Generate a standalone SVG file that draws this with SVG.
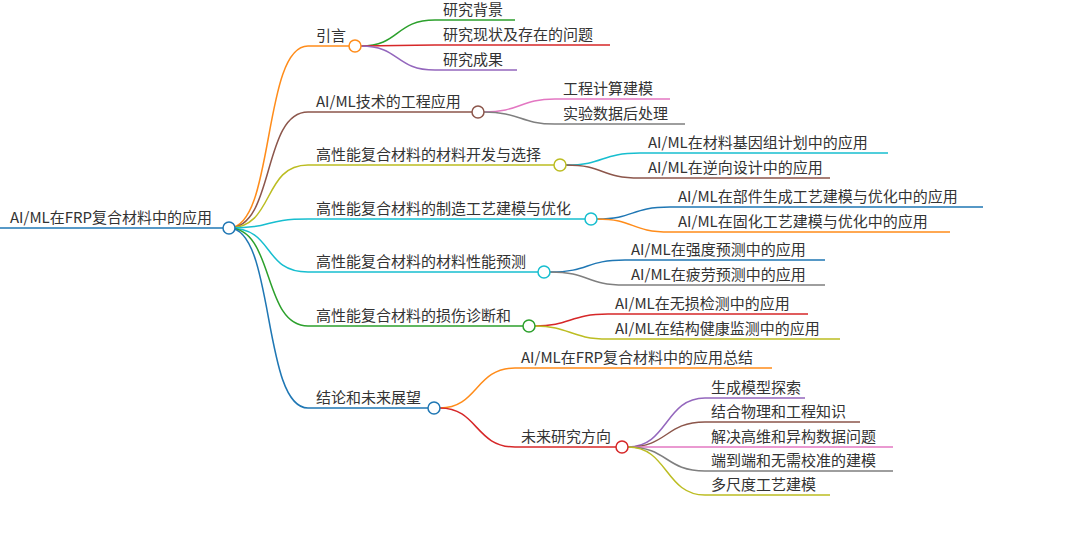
<svg xmlns="http://www.w3.org/2000/svg" width="1080" height="544" viewBox="0 0 1080 544">
<style>
text{font-family:"Noto Sans CJK SC","Liberation Sans",sans-serif;font-size:15px;fill:#333}
path{fill:none;stroke-width:1.5}
circle{fill:#fff;stroke-width:1.5}
</style>
<rect width="1080" height="544" fill="#fff"/>
<g id="connectors">
<path d="M0 228H229" stroke="#1f77b4" stroke-width="3"/>
<path d="M229 228C275 228 262 46 308 46H355" stroke="#ff8c1a"/>
<path d="M229 228C275 228 262 112 308 112H478" stroke="#8c564b"/>
<path d="M229 228C275 228 262 165 308 165H560" stroke="#bcbd22"/>
<path d="M229 228C275 228 262 219 308 219H591" stroke="#17becf"/>
<path d="M229 228C275 228 262 272 308 272H544" stroke="#17becf"/>
<path d="M229 228C275 228 262 326 308 326H529" stroke="#2ca02c"/>
<path d="M229 228C275 228 262 408 308 408H434" stroke="#1f77b4"/>
<path d="M361 46C400 46 395 20 435 20H515" stroke="#2ca02c"/>
<path d="M361 46C400 46 395 45 435 45H610" stroke="#d62728"/>
<path d="M361 46C400 46 395 70 435 70H517" stroke="#9467bd"/>
<path d="M484 112C520 112 520 99 555 99H670" stroke="#e377c2"/>
<path d="M484 112C520 112 520 124 555 124H685" stroke="#7f7f7f"/>
<path d="M566 165C605 165 600 153 640 153H888" stroke="#17becf"/>
<path d="M566 165C605 165 600 178 640 178H830" stroke="#8c564b"/>
<path d="M597 219C635 219 630 207 670 207H983" stroke="#1f77b4"/>
<path d="M597 219C635 219 630 232 670 232H950" stroke="#ff8c1a"/>
<path d="M550 272C590 272 585 260 625 260H825" stroke="#1f77b4"/>
<path d="M550 272C590 272 585 285 625 285H825" stroke="#7f7f7f"/>
<path d="M535 326C570 326 570 314 608 314H808" stroke="#d62728"/>
<path d="M535 326C570 326 570 339 608 339H840" stroke="#bcbd22"/>
<path d="M440 408C478 408 475 368 515 368H772" stroke="#ff8c1a"/>
<path d="M440 408C478 408 475 447 515 447H622" stroke="#d62728"/>
<path d="M628 447C668 447 665 398 705 398H805" stroke="#9467bd"/>
<path d="M628 447C668 447 665 422 705 422H860" stroke="#8c564b"/>
<path d="M628 447C668 447 665 447 705 447H893" stroke="#e377c2"/>
<path d="M628 447C668 447 665 471 705 471H893" stroke="#7f7f7f"/>
<path d="M628 447C668 447 665 495 705 495H830" stroke="#bcbd22"/>
</g>
<g id="root"><text x="10" y="223">AI/ML在FRP复合材料中的应用</text><circle cx="229" cy="228" r="6" stroke="#1f77b4"/></g>
<g id="n1"><text x="316" y="41">引言</text><circle cx="355" cy="46" r="6" stroke="#ff8c1a"/></g>
<g id="n2"><text x="316" y="107">AI/ML技术的工程应用</text><circle cx="478" cy="112" r="6" stroke="#8c564b"/></g>
<g id="n3"><text x="316" y="160">高性能复合材料的材料开发与选择</text><circle cx="560" cy="165" r="6" stroke="#bcbd22"/></g>
<g id="n4"><text x="316" y="214">高性能复合材料的制造工艺建模与优化</text><circle cx="591" cy="219" r="6" stroke="#17becf"/></g>
<g id="n5"><text x="316" y="267">高性能复合材料的材料性能预测</text><circle cx="544" cy="272" r="6" stroke="#17becf"/></g>
<g id="n6"><text x="316" y="321">高性能复合材料的损伤诊断和</text><circle cx="529" cy="326" r="6" stroke="#2ca02c"/></g>
<g id="n7"><text x="316" y="403">结论和未来展望</text><circle cx="434" cy="408" r="6" stroke="#1f77b4"/></g>
<g id="n1a"><text x="443" y="15">研究背景</text></g>
<g id="n1b"><text x="443" y="40">研究现状及存在的问题</text></g>
<g id="n1c"><text x="443" y="65">研究成果</text></g>
<g id="n2a"><text x="563" y="94">工程计算建模</text></g>
<g id="n2b"><text x="563" y="119">实验数据后处理</text></g>
<g id="n3a"><text x="648" y="148">AI/ML在材料基因组计划中的应用</text></g>
<g id="n3b"><text x="648" y="173">AI/ML在逆向设计中的应用</text></g>
<g id="n4a"><text x="678" y="202">AI/ML在部件生成工艺建模与优化中的应用</text></g>
<g id="n4b"><text x="678" y="227">AI/ML在固化工艺建模与优化中的应用</text></g>
<g id="n5a"><text x="631" y="255">AI/ML在强度预测中的应用</text></g>
<g id="n5b"><text x="631" y="280">AI/ML在疲劳预测中的应用</text></g>
<g id="n6a"><text x="615" y="309">AI/ML在无损检测中的应用</text></g>
<g id="n6b"><text x="615" y="334">AI/ML在结构健康监测中的应用</text></g>
<g id="n7a"><text x="521" y="363">AI/ML在FRP复合材料中的应用总结</text></g>
<g id="n7b"><text x="521" y="442">未来研究方向</text><circle cx="622" cy="447" r="6" stroke="#d62728"/></g>
<g id="f1"><text x="711" y="393">生成模型探索</text></g>
<g id="f2"><text x="711" y="417">结合物理和工程知识</text></g>
<g id="f3"><text x="711" y="442">解决高维和异构数据问题</text></g>
<g id="f4"><text x="711" y="466">端到端和无需校准的建模</text></g>
<g id="f5"><text x="711" y="490">多尺度工艺建模</text></g>
</svg>
